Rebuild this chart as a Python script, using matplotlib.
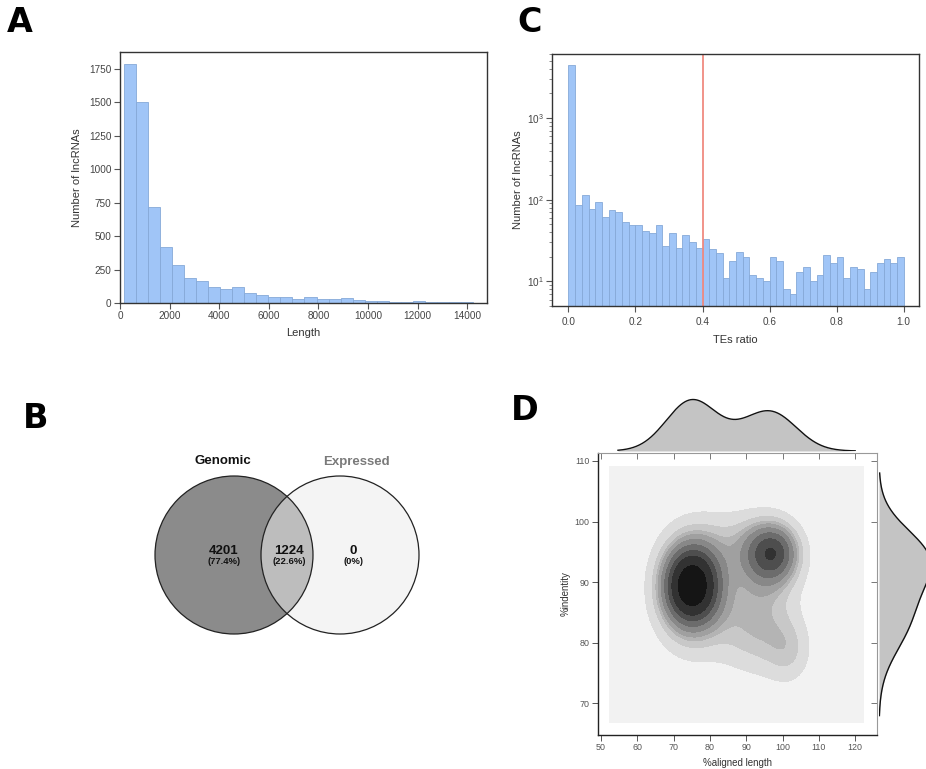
import numpy as np
import matplotlib
matplotlib.use("Agg")
import matplotlib.pyplot as plt
from matplotlib.patches import Circle
from matplotlib.ticker import LogLocator, NullFormatter

plt.rcParams['font.family'] = ['Liberation Sans', 'DejaVu Sans']
plt.rcParams['mathtext.fontset'] = 'custom'
plt.rcParams['mathtext.rm'] = 'Liberation Sans'
plt.rcParams['mathtext.it'] = 'Liberation Sans'

# ---------------- Data ----------------
# Panel A: lncRNA length histogram
length_edges = np.linspace(165, 14230, 30)
length_counts = [1785, 1505, 715, 420, 282, 190, 168, 122, 107, 118, 78, 62,
                 47, 47, 32, 42, 28, 28, 35, 22, 15, 17, 10, 10, 13, 7, 4, 4, 5]

# Panel C: TEs ratio histogram (log scale)
te_edges = np.linspace(0, 1, 51)
te_counts = [4400, 85, 113, 77, 95, 61, 74, 71, 54, 49, 49, 41, 39, 49, 27, 39,
             26, 37, 30, 26, 33, 25, 22, 11, 18, 23, 20, 12, 11, 10, 20, 18,
             8, 7, 13, 15, 10, 12, 21, 17, 20, 11, 15, 14, 8, 13, 17, 19, 17, 20]
te_cutoff = 0.4

# Panel B: Venn
venn_sets = ["Genomic", "Expressed"]
venn_counts = [4201, 1224, 0]
venn_pcts = ["(77.4%)", "(22.6%)", "(0%)"]

# Panel D: 2D density model (Gaussian components)
comp_x = [75.0, 75.0, 97.5, 96.0, 93.0, 102.0, 86.0]
comp_y = [89.5, 88.5, 95.0, 94.0, 82.5, 78.5, 97.0]
comp_sx = [5.0, 7.5, 4.5, 6.5, 7.5, 4.5, 9.0]
comp_sy = [4.2, 7.0, 3.0, 4.5, 5.5, 4.0, 4.0]
comp_w = [0.26, 0.27, 0.07, 0.15, 0.15, 0.04, 0.06]
grid_x_range = [52.5, 122.4]
grid_y_range = [66.8, 109.1]

# Panel D marginals (components)
marg_x_mu = [75.0, 97.0, 88.0]
marg_x_sd = [7.0, 7.0, 6.0]
marg_x_w = [0.54, 0.40, 0.06]
marg_y_mu = [94.0, 84.0]
marg_y_sd = [4.8, 5.5]
marg_y_w = [0.58, 0.42]
marg_x_range = [54.7, 120.0]
marg_y_range = [68.0, 108.0]

W, H = 926, 769
fig = plt.figure(figsize=(W / 100, H / 100), dpi=100)


def px_axes(left, top, right, bottom):
    return fig.add_axes([left / W, 1 - bottom / H, (right - left) / W, (bottom - top) / H])


tick_col = '#444444'
lab_col = '#333333'
bar_face = '#a0c5f7'
bar_edge = '#86a9d8'

# ---------------- Panel A ----------------
axA = px_axes(120, 52, 487, 303)
lefts = length_edges[:-1]
widths = np.diff(length_edges)
axA.bar(lefts, length_counts, width=widths, align='edge', color=bar_face,
        edgecolor=bar_edge, linewidth=0.6)
axA.set_xlim(0, 14800)
axA.set_ylim(0, 1875)
axA.set_xticks(np.arange(0, 14001, 2000))
axA.set_yticks(np.arange(0, 1751, 250))
axA.set_xlabel("Length", fontsize=8, color=lab_col, labelpad=5)
axA.set_ylabel("Number of lncRNAs", fontsize=8, color=lab_col, labelpad=5)

# ---------------- Panel C ----------------
axC = px_axes(552, 54, 919, 306)
axC.bar(te_edges[:-1], te_counts, width=np.diff(te_edges), align='edge', color=bar_face,
        edgecolor=bar_edge, linewidth=0.6)
axC.set_yscale('log')
axC.set_ylim(5.0, 6080)
axC.set_xlim(-0.049, 1.0455)
axC.axvline(te_cutoff, color='#f08a80', lw=1.3)
axC.set_xticks(np.arange(0, 1.01, 0.2))
axC.set_xticklabels([f"{v:.1f}" for v in np.arange(0, 1.01, 0.2)])
axC.yaxis.set_minor_locator(LogLocator(base=10, subs=np.arange(2, 10)))
axC.yaxis.set_minor_formatter(NullFormatter())
axC.set_xlabel("TEs ratio", fontsize=8, color=lab_col, labelpad=6)
axC.set_ylabel("Number of lncRNAs", fontsize=8, color=lab_col, labelpad=3)

for ax in (axA, axC):
    for s in ax.spines.values():
        s.set_color('#333333')
        s.set_linewidth(1.0)
    ax.tick_params(axis='both', which='major', direction='out', length=4, width=0.8,
                   color='#555555', labelsize=7.2, labelcolor=tick_col, pad=2)
    ax.tick_params(axis='both', which='minor', direction='out', length=2, width=0.6,
                   color='#777777')
axC.tick_params(axis='x', which='major', pad=4)

# ---------------- Panel B (Venn) ----------------
axB = px_axes(140, 440, 430, 650)
axB.set_xlim(140, 430)
axB.set_ylim(650, 440)
axB.axis('off')
cL = (234, 555)
cR = (340, 555)
r = 79
left_c = Circle(cL, r, facecolor='#8b8b8b', edgecolor='none')
right_c = Circle(cR, r, facecolor='#f4f4f4', edgecolor='none')
axB.add_patch(left_c)
axB.add_patch(right_c)
inter = Circle(cR, r, facecolor='#bdbdbd', edgecolor='none')
axB.add_patch(inter)
inter.set_clip_path(left_c)
axB.add_patch(Circle(cL, r, facecolor='none', edgecolor='#222222', lw=0.9))
axB.add_patch(Circle(cR, r, facecolor='none', edgecolor='#222222', lw=0.9))
axB.text(223, 461.5, venn_sets[0], ha='center', va='center', fontsize=9.5,
         fontweight='bold', color='#111111')
axB.text(356, 461.5, venn_sets[1], ha='center', va='center', fontsize=9.5,
         fontweight='bold', color='#7a7a7a')
num_x = [224, 289, 353]
for xx, n, p in zip(num_x, venn_counts, venn_pcts):
    axB.text(xx, 550.5, str(n), ha='center', va='center', fontsize=9.5,
             fontweight='bold', color='#111111')
    axB.text(xx, 562, p, ha='center', va='center', fontsize=6.8,
             fontweight='bold', color='#111111')

# ---------------- Panel D ----------------
def dens2d(X, Y):
    Z = np.zeros_like(X)
    for mx, my, sx, sy, w in zip(comp_x, comp_y, comp_sx, comp_sy, comp_w):
        Z += w / (2 * np.pi * sx * sy) * np.exp(-0.5 * (((X - mx) / sx) ** 2 + ((Y - my) / sy) ** 2))
    return Z


def dens1d(v, mus, sds, ws):
    out = np.zeros_like(v)
    for m, s, w in zip(mus, sds, ws):
        out += w / (np.sqrt(2 * np.pi) * s) * np.exp(-0.5 * ((v - m) / s) ** 2)
    return out


gx = np.linspace(grid_x_range[0], grid_x_range[1], 300)
gy = np.linspace(grid_y_range[0], grid_y_range[1], 300)
GX, GY = np.meshgrid(gx, gy)
Z = dens2d(GX, GY)
zs = np.sort(Z.ravel())
cdf = np.cumsum(zs)
cdf /= cdf[-1]
props = np.linspace(0, 1, 11)
levels = np.interp(props, cdf, zs)
levels[0] = zs[0] * 0.999
levels[-1] = zs[-1] * 1.001
grays = ['#f2f2f2', '#dcdcdc', '#c8c8c8', '#b4b4b4', '#a0a0a0', '#888888',
         '#6c6c6c', '#4e4e4e', '#323232', '#151515']

axD = px_axes(598, 453, 877, 735)
axD.contourf(GX, GY, Z, levels=levels, colors=grays)
axD.set_xlim(49.2, 126.0)
axD.set_ylim(64.8, 111.3)
axD.set_xticks(np.arange(50, 121, 10))
axD.set_yticks(np.arange(70, 111, 10))
axD.set_xlabel("%aligned length", fontsize=7, color=lab_col, labelpad=4)
axD.set_ylabel("%indentity", fontsize=7, color=lab_col, labelpad=3)
axD.tick_params(axis='both', direction='out', length=4, width=0.7, color='#555555',
                labelsize=6.4, labelcolor='#555555', pad=2,
                top=False, right=False)
for side in ('left', 'bottom'):
    axD.spines[side].set_color('#222222')
    axD.spines[side].set_linewidth(1.0)
for side in ('top', 'right'):
    axD.spines[side].set_color('#999999')
    axD.spines[side].set_linewidth(0.8)
sec_x = axD.secondary_xaxis('top')
sec_x.set_xticks(np.arange(50, 121, 10))
sec_x.tick_params(direction='in', length=4, width=0.7, color='#777777', labeltop=False)
sec_x.spines['top'].set_visible(False)
sec_y = axD.secondary_yaxis('right')
sec_y.set_yticks(np.arange(70, 111, 10))
sec_y.tick_params(direction='in', length=4, width=0.7, color='#777777', labelright=False)
sec_y.spines['right'].set_visible(False)

# top marginal
mx = np.linspace(marg_x_range[0], marg_x_range[1], 400)
dx = dens1d(mx, marg_x_mu, marg_x_sd, marg_x_w)
axTop = px_axes(598, 395, 877, 451)
axTop.fill_between(mx, 0, dx, color='#c4c4c4', lw=0)
axTop.plot(mx, dx, color='#111111', lw=1.0)
axTop.set_xlim(axD.get_xlim())
axTop.set_ylim(0, dx.max() * 56 / 51.5)
axTop.axis('off')

# right marginal
my = np.linspace(marg_y_range[0], marg_y_range[1], 400)
dy = dens1d(my, marg_y_mu, marg_y_sd, marg_y_w)
axRight = px_axes(879, 453, 935, 735)
axRight.fill_betweenx(my, 0, dy, color='#c4c4c4', lw=0)
axRight.plot(dy, my, color='#111111', lw=1.0)
axRight.set_ylim(axD.get_ylim())
axRight.set_xlim(0, dy.max() * 56 / 52)
axRight.axis('off')

# ---------------- Panel letters ----------------
for lab, (x, y) in {"A": (20, 22), "B": (36, 418), "C": (530, 22), "D": (525, 411)}.items():
    fig.text(x / W, 1 - y / H, lab, fontsize=24, fontweight='bold', family='DejaVu Sans',
             ha='center', va='center', color='black')

fig.savefig("out.png", dpi=100)
